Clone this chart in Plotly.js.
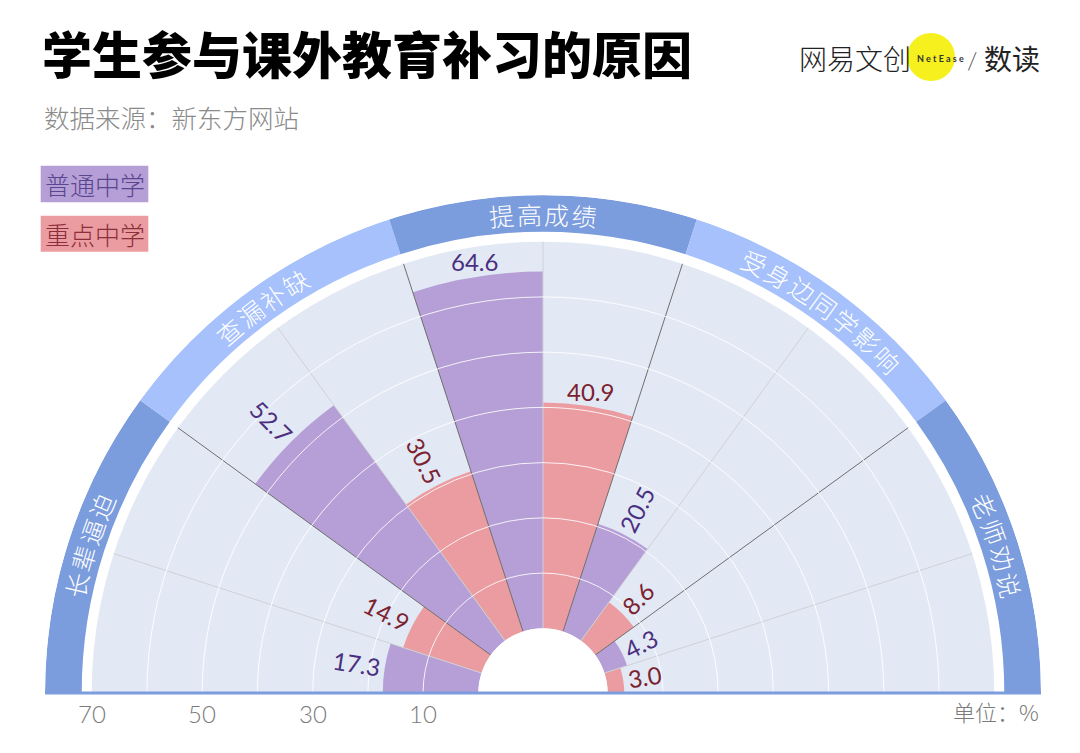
<!DOCTYPE html>
<html><head><meta charset="utf-8">
<script src="https://cdn.plot.ly/plotly-3.0.1.min.js"></script>
<style>html,body{margin:0;padding:0;background:#fff;} #chart{width:1080px;height:753px;}</style>
</head><body><div id="chart"></div>
<script>
// ---- data ----
const categories = ['长辈逼迫', '查漏补缺', '提高成绩', '受身边同学影响', '老师劝说'];
const seriesNames = ['普通中学', '重点中学'];
const putong = [17.3, 52.7, 64.6, 20.5, 4.3];
const zhongdian = [14.9, 30.5, 40.9, 8.6, 3.0];
const radialTicks = [10, 30, 50, 70];
const radialMax = 70;

// ---- style / geometry ----
const W = 1080, H = 753;
const CX = 543, CY = 693, R_OUT = 498, R_GREY = 451.3, R_HOLE = 64.7, R_BAND_IN = 461.3;
const pxPerUnit = (R_GREY - R_HOLE) / radialMax;
const bandIn = (R_BAND_IN - R_HOLE) / pxPerUnit;
const outerRange = (R_OUT - R_HOLE) / pxPerUnit;
const colorP = '#b59fd6', colorZ = '#ea9ca1';
const textP = '#4b2f80', textZ = '#7b2230';
const bandDark = '#7b9cdd', bandLight = '#a6c1fb';
const greyBg = '#e3e9f4';

const n = categories.length;
const sectorW = 180 / n;
const catCenter = categories.map((c, i) => 180 - sectorW * (i + 0.5));
const thetaP = catCenter.map(t => t + sectorW / 4);
const thetaZ = catCenter.map(t => t - sectorW / 4);
const boundaries = catCenter.slice(1).map(t => t + sectorW / 2);

function lineSeg(angles, rr) {
  const r = [], th = [];
  angles.forEach(a => { r.push(0, rr, null); th.push(a, a, null); });
  return {r, th};
}
const dark = lineSeg(boundaries, radialMax);

const traces = [
  {type: 'barpolar', r: [radialMax], theta: [90], width: [180], marker: {color: greyBg, line: {width: 0}}, hoverinfo: 'skip', subplot: 'polar'},
  {type: 'barpolar', r: catCenter.map(() => outerRange - bandIn), base: catCenter.map(() => bandIn), theta: catCenter,
   width: catCenter.map(() => sectorW), marker: {color: catCenter.map((c, i) => i % 2 === 0 ? bandDark : bandLight), line: {width: 0}},
   hoverinfo: 'skip', subplot: 'polar'},
  {type: 'barpolar', name: seriesNames[0], r: putong, theta: thetaP, width: putong.map(() => sectorW / 2),
   marker: {color: colorP, line: {width: 0}}, subplot: 'polar'},
  {type: 'barpolar', name: seriesNames[1], r: zhongdian, theta: thetaZ, width: zhongdian.map(() => sectorW / 2),
   marker: {color: colorZ, line: {width: 0}}, subplot: 'polar'},
  {type: 'scatterpolar', mode: 'lines', r: dark.r, theta: dark.th, line: {color: '#6e6e6e', width: 1}, hoverinfo: 'skip', subplot: 'polar'},
  {type: 'scatterpolar', mode: 'markers', r: [0], theta: [0], marker: {opacity: 0}, hoverinfo: 'skip', subplot: 'polar2'}
];

function toPaper(rpx, deg) {
  const t = deg * Math.PI / 180;
  return {x: (CX + rpx * Math.cos(t)) / W, y: (H - (CY - rpx * Math.sin(t))) / H};
}

const annotations = [];
function valueLabel(v, theta, color) {
  const txt = v.toFixed(1);
  const fs = 24;
  const endPx = R_HOLE + v * pxPerUnit;
  const horizontal = Math.abs(theta - 90) < sectorW / 2;
  let angle, half;
  if (horizontal) { angle = 0; half = 10; }
  else {
    const w = txt.replace(/\./g, '').length * 0.56 * fs + 0.26 * fs;
    half = w / 2;
    angle = theta > 90 ? 180 - theta : -theta;
  }
  const p = toPaper(endPx + 5 + half, theta);
  annotations.push({x: p.x, y: p.y, xref: 'paper', yref: 'paper', text: txt, textangle: angle, showarrow: false,
    xanchor: 'center', yanchor: 'middle', font: {family: 'Lato', size: fs, color: color, weight: 400}});
}
putong.forEach((v, i) => valueLabel(v, thetaP[i], textP));
zhongdian.forEach((v, i) => valueLabel(v, thetaZ[i], textZ));

// radial tick labels below the baseline
radialTicks.forEach(v => {
  const p = toPaper(R_HOLE + v * pxPerUnit, 180);
  annotations.push({x: p.x, y: p.y, xref: 'paper', yref: 'paper', text: String(v), showarrow: false,
    xanchor: 'center', yanchor: 'top', yshift: -4, font: {family: 'Lato', size: 24, color: '#7a7a7a', weight: 300}});
});

// curved category labels in the band
const R_BAND_MID = (R_BAND_IN + R_OUT) / 2;
const charStep = 27.5 / R_BAND_MID * 180 / Math.PI;
categories.forEach((c, i) => {
  const chars = [...c];
  chars.forEach((ch, k) => {
    const th = catCenter[i] - (k - (chars.length - 1) / 2) * charStep;
    const p = toPaper(R_BAND_MID, th);
    annotations.push({x: p.x, y: p.y, xref: 'paper', yref: 'paper', text: ch, textangle: 90 - th, showarrow: false,
      xanchor: 'center', yanchor: 'middle', font: {family: 'Noto Sans CJK SC', size: 25, color: '#ffffff', weight: 300}});
  });
});

function pa(x, y, text, font, xanchor) {
  annotations.push({x: x / W, y: 1 - y / H, xref: 'paper', yref: 'paper', text: text, showarrow: false,
    xanchor: xanchor || 'center', yanchor: 'middle', font: font});
}
pa(42, 117, '数据来源：新东方网站', {family: 'Noto Sans CJK SC', size: 25.5, color: '#8a8a8a', weight: 300}, 'left');
pa(94.5, 184, seriesNames[0], {family: 'Noto Sans CJK SC', size: 25, color: '#5a468f', weight: 300});
pa(94.5, 234, seriesNames[1], {family: 'Noto Sans CJK SC', size: 25, color: '#8b2f3a', weight: 300});
pa(1041, 711, '单位：%', {family: 'Noto Sans CJK SC', size: 22, color: '#7a7a7a', weight: 300}, 'right');
pa(855, 58, '网易文创', {family: 'Noto Sans CJK SC', size: 28, color: '#222', weight: 300});
pa(940, 58, 'N e t E a s e', {family: 'Lato', size: 9, color: '#333', weight: 700});
pa(972, 59, '/', {family: 'Lato', size: 24, color: '#555', weight: 300});
pa(1012, 58, '数读', {family: 'Noto Sans CJK SC', size: 28, color: '#222', weight: 400});

const shapes = [
  {type: 'rect', xref: 'paper', yref: 'paper', x0: 40.7 / W, x1: 148.3 / W, y0: 1 - 202.3 / H, y1: 1 - 165.7 / H, fillcolor: colorP, line: {width: 0}, layer: 'below'},
  {type: 'rect', xref: 'paper', yref: 'paper', x0: 40.7 / W, x1: 148.3 / W, y0: 1 - 251.7 / H, y1: 1 - 215.7 / H, fillcolor: colorZ, line: {width: 0}, layer: 'below'},
  {type: 'circle', xref: 'paper', yref: 'paper', x0: 907 / W, x1: 955 / W, y0: 1 - 81 / H, y1: 1 - 33 / H, fillcolor: '#f6f01e', line: {width: 0}, layer: 'below'},
  // baseline of the half-circle
  {type: 'line', xref: 'paper', yref: 'paper', x0: (CX - R_OUT) / W, x1: (CX + R_OUT) / W, y0: (H - CY) / H, y1: (H - CY) / H,
   line: {color: bandDark, width: 3}, layer: 'above'}
];

const layout = {
  width: W, height: H,
  margin: {l: 0, r: 0, t: 0, b: 0},
  paper_bgcolor: '#ffffff',
  showlegend: false,
  title: {text: '学生参与课外教育补习的原因', x: 42 / W, xanchor: 'left', y: 1 - 56 / H, yanchor: 'middle',
    font: {family: 'Noto Sans CJK SC', size: 50, color: '#000', weight: 900}},
  polar: {
    domain: {x: [(CX - R_OUT) / W, (CX + R_OUT) / W], y: [(H - CY) / H, (H - CY + R_OUT) / H]},
    sector: [0, 180], hole: R_HOLE / R_OUT, bgcolor: 'rgba(0,0,0,0)', barmode: 'overlay',
    radialaxis: {range: [0, outerRange], visible: false},
    angularaxis: {rotation: 0, direction: 'counterclockwise', visible: false}
  },
  polar2: {
    domain: {x: [(CX - R_GREY) / W, (CX + R_GREY) / W], y: [(H - CY) / H, (H - CY + R_GREY) / H]},
    sector: [0, 180], hole: R_HOLE / R_GREY, bgcolor: 'rgba(0,0,0,0)',
    radialaxis: {range: [0, radialMax], tickvals: [10, 20, 30, 40, 50, 60], showticklabels: false, ticks: '', showline: false,
      gridcolor: 'rgba(255,255,255,0.85)', gridwidth: 1},
    angularaxis: {rotation: 0, direction: 'counterclockwise', tickvals: catCenter, showticklabels: false, ticks: '', showline: false,
      gridcolor: '#cfd0d6', gridwidth: 1}
  },
  annotations: annotations,
  shapes: shapes
};

Plotly.newPlot('chart', traces, layout, {displayModeBar: false, staticPlot: true});
</script>
</body></html>
